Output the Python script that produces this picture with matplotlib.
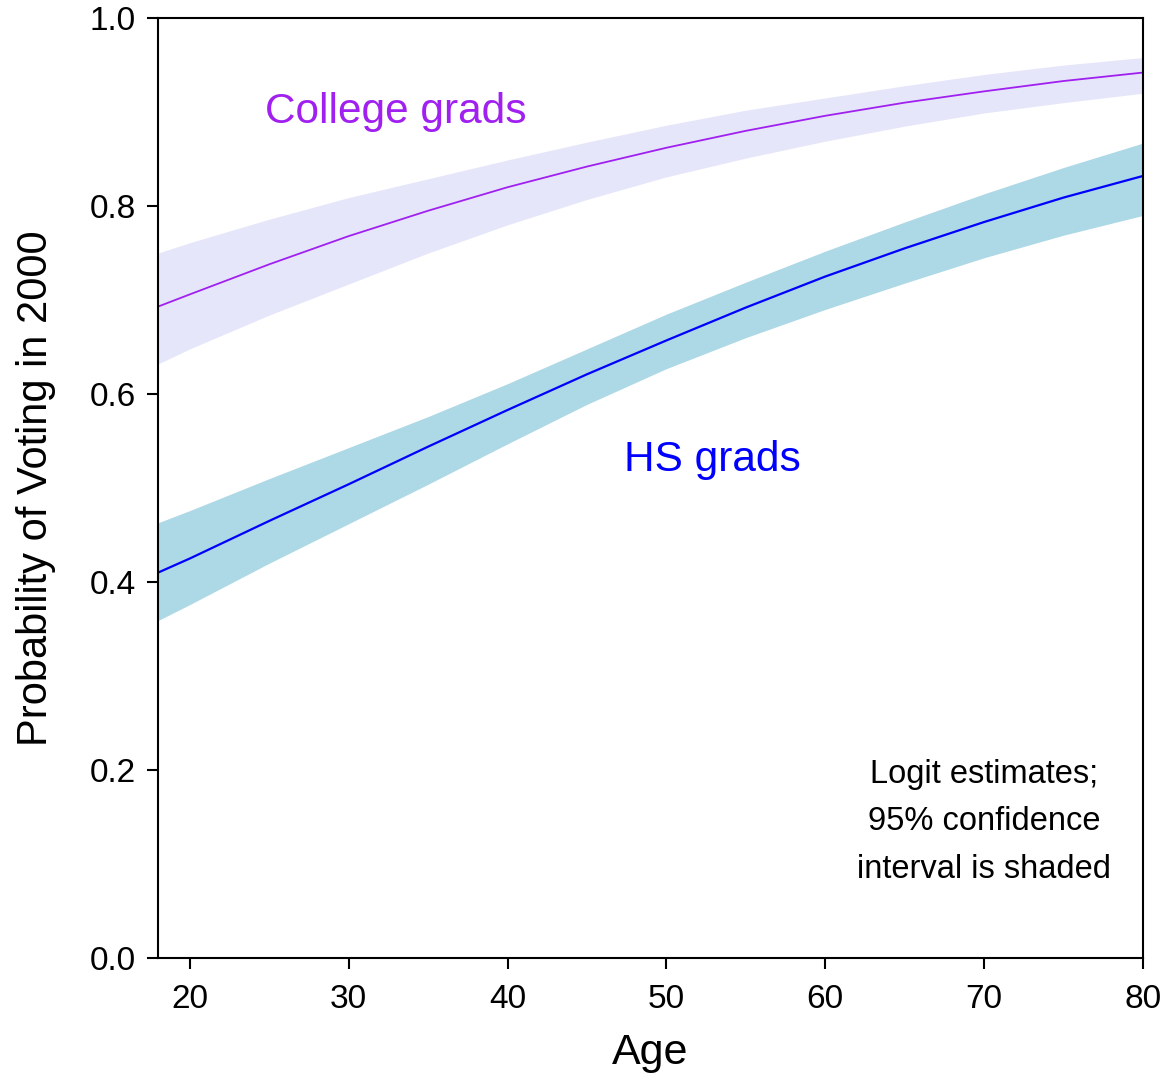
import numpy as np
from matplotlib import pyplot as plt

plt.rcParams['font.family'] = ['Liberation Sans', 'DejaVu Sans']

age = [18, 20, 25, 30, 35, 40, 45, 50, 55, 60, 65, 70, 75, 80]

college_fit = [0.693, 0.706, 0.738, 0.768, 0.795, 0.820, 0.842, 0.862, 0.880, 0.896, 0.910, 0.922, 0.933, 0.942]
college_hi = [0.750, 0.761, 0.786, 0.809, 0.829, 0.849, 0.868, 0.886, 0.902, 0.915, 0.928, 0.940, 0.950, 0.958]
college_lo = [0.632, 0.648, 0.684, 0.717, 0.750, 0.780, 0.807, 0.831, 0.851, 0.869, 0.885, 0.899, 0.910, 0.920]

hs_fit = [0.410, 0.425, 0.465, 0.504, 0.544, 0.583, 0.621, 0.657, 0.692, 0.725, 0.755, 0.783, 0.809, 0.832]
hs_hi = [0.463, 0.476, 0.510, 0.543, 0.576, 0.611, 0.648, 0.685, 0.719, 0.752, 0.783, 0.813, 0.841, 0.867]
hs_lo = [0.359, 0.376, 0.420, 0.462, 0.504, 0.547, 0.589, 0.627, 0.660, 0.690, 0.718, 0.745, 0.769, 0.790]

x_ticks = [20, 30, 40, 50, 60, 70, 80]
y_ticks = [0.0, 0.2, 0.4, 0.6, 0.8, 1.0]

fig = plt.figure(figsize=(11.67, 10.74), dpi=100)
ax = fig.add_axes([0.1354, 0.108, 0.844, 0.8752])

ax.fill_between(age, college_lo, college_hi, color='#E6E6FA', linewidth=0)
ax.fill_between(age, hs_lo, hs_hi, color='#ADD8E6', linewidth=0)
ax.plot(age, college_fit, color='#A020F0', linewidth=1.3)
ax.plot(age, hs_fit, color='#0000FF', linewidth=1.6)

ax.text(32.95, 0.900, 'College grads', color='#A020F0', fontsize=30.5, ha='center', va='center')
ax.text(52.9, 0.530, 'HS grads', color='#0000FF', fontsize=30.5, ha='center', va='center')
ax.text(70.0, 0.145, 'Logit estimates;\n95% confidence\ninterval is shaded',
        fontsize=23.5, ha='center', va='center', linespacing=1.68)

ax.set(xlim=(18, 80), ylim=(0, 1), xticks=x_ticks, yticks=y_ticks)
ax.set_yticklabels([f'{v:.1f}' for v in y_ticks])
ax.tick_params(direction='out', length=8, width=1.5, labelsize=24, pad=8)
ax.tick_params(axis='x', pad=11)
for s in ax.spines.values():
    s.set_linewidth(1.5)

ax.set_xlabel('Age', fontsize=31, labelpad=13)
ax.set_ylabel('Probability of Voting in 2000', fontsize=30, labelpad=24)

fig.savefig('out.png', dpi=100)
